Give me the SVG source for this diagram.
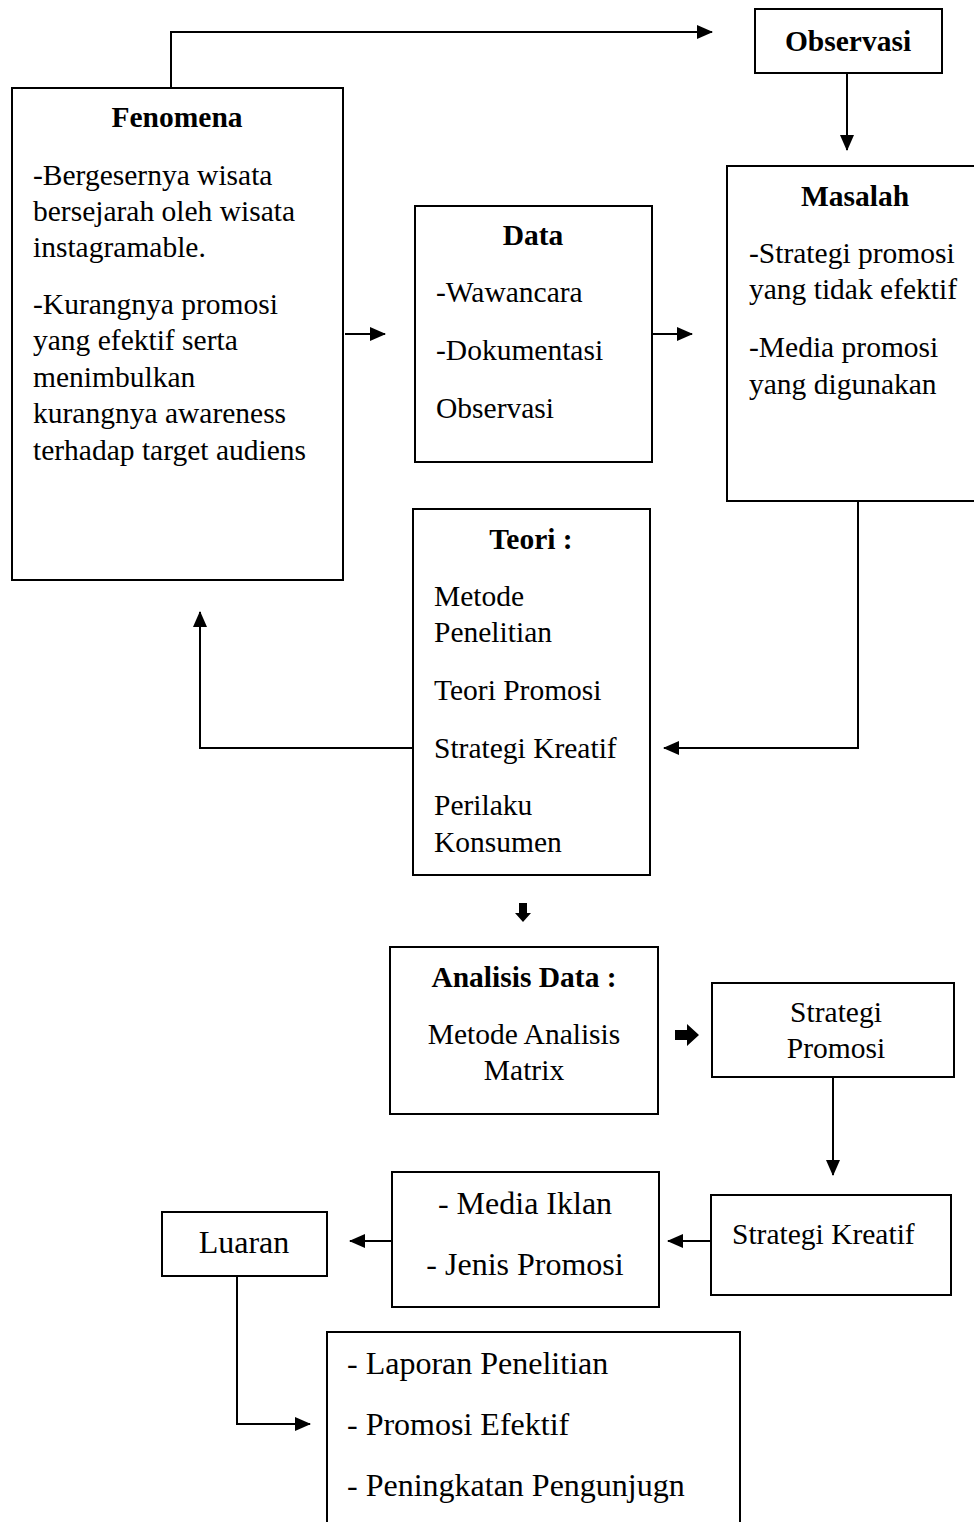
<svg xmlns="http://www.w3.org/2000/svg" width="974" height="1522" viewBox="0 0 974 1522">
<style>
.box{fill:#fff;stroke:#000;stroke-width:2}
.t{font-family:"Liberation Serif","Times New Roman",serif;font-size:29.5px;fill:#000}
.L{font-size:32px}
.b{font-weight:bold}
.c{text-anchor:middle}
.ln{fill:none;stroke:#000;stroke-width:2}
</style>
<defs>
<marker id="ah" markerWidth="16" markerHeight="14" refX="15" refY="7" orient="auto" markerUnits="userSpaceOnUse">
<path d="M0,0 L16,7 L0,14 Z" fill="#000"/>
</marker>
</defs>
<rect width="974" height="1522" fill="#fff"/>

<g id="connectors">
<path class="ln" d="M171,88 V32 H712" marker-end="url(#ah)"/>
<path class="ln" d="M847,73 V150" marker-end="url(#ah)"/>
<path class="ln" d="M345,334 H385" marker-end="url(#ah)"/>
<path class="ln" d="M652,334 H692" marker-end="url(#ah)"/>
<path class="ln" d="M858,501 V748 H664" marker-end="url(#ah)"/>
<path class="ln" d="M413,748 H200 V612" marker-end="url(#ah)"/>
<path d="M519,903 H527 V913 H531 L523,922 L515,913 H519 Z" fill="#000"/>
<path d="M675,1030 H687 V1024 L699,1035 L687,1046 V1040 H675 Z" fill="#000"/>
<path class="ln" d="M833,1077 V1175" marker-end="url(#ah)"/>
<path class="ln" d="M711,1241 H668" marker-end="url(#ah)"/>
<path class="ln" d="M392,1241 H350" marker-end="url(#ah)"/>
<path class="ln" d="M237,1276 V1424 H310" marker-end="url(#ah)"/>
</g>

<g id="observasi">
<rect class="box" x="755" y="9" width="187" height="64"/>
<text class="t b c" x="848" y="51" font-size="34">Observasi</text>
</g>

<g id="fenomena">
<rect class="box" x="12" y="88" width="331" height="492"/>
<text class="t b c" x="177" y="127">Fenomena</text>
<text class="t" x="33" y="185">-Bergesernya wisata</text>
<text class="t" x="33" y="221">bersejarah oleh wisata</text>
<text class="t" x="33" y="257">instagramable.</text>
<text class="t" x="33" y="314">-Kurangnya promosi</text>
<text class="t" x="33" y="350">yang efektif serta</text>
<text class="t" x="33" y="387">menimbulkan</text>
<text class="t" x="33" y="423">kurangnya awareness</text>
<text class="t" x="33" y="460">terhadap target audiens</text>
</g>

<g id="data">
<rect class="box" x="415" y="206" width="237" height="256"/>
<text class="t b c" x="533" y="245">Data</text>
<text class="t" x="436" y="302">-Wawancara</text>
<text class="t" x="436" y="360">-Dokumentasi</text>
<text class="t" x="436" y="418">Observasi</text>
</g>

<g id="masalah">
<rect class="box" x="727" y="166" width="260" height="335"/>
<text class="t b c" x="855" y="206">Masalah</text>
<text class="t" x="749" y="263">-Strategi promosi</text>
<text class="t" x="749" y="299">yang tidak efektif</text>
<text class="t" x="749" y="357">-Media promosi</text>
<text class="t" x="749" y="394">yang digunakan</text>
</g>

<g id="teori">
<rect class="box" x="413" y="509" width="237" height="366"/>
<text class="t b c" x="531" y="549">Teori :</text>
<text class="t" x="434" y="606">Metode</text>
<text class="t" x="434" y="642">Penelitian</text>
<text class="t" x="434" y="700">Teori Promosi</text>
<text class="t" x="434" y="758">Strategi Kreatif</text>
<text class="t" x="434" y="815">Perilaku</text>
<text class="t" x="434" y="852">Konsumen</text>
</g>

<g id="analisis">
<rect class="box" x="390" y="947" width="268" height="167"/>
<text class="t b c" x="524" y="987">Analisis Data :</text>
<text class="t c" x="524" y="1044">Metode Analisis</text>
<text class="t c" x="524" y="1080">Matrix</text>
</g>

<g id="strategi-promosi">
<rect class="box" x="712" y="983" width="242" height="94"/>
<text class="t c" x="836" y="1022">Strategi</text>
<text class="t c" x="836" y="1058">Promosi</text>
</g>

<g id="strategi-kreatif">
<rect class="box" x="711" y="1195" width="240" height="100"/>
<text class="t" x="732" y="1244">Strategi Kreatif</text>
</g>

<g id="media">
<rect class="box" x="392" y="1172" width="267" height="135"/>
<text class="t L c" x="525" y="1214">- Media Iklan</text>
<text class="t L c" x="525" y="1275">- Jenis Promosi</text>
</g>

<g id="luaran">
<rect class="box" x="162" y="1212" width="165" height="64"/>
<text class="t L c" x="244" y="1253">Luaran</text>
</g>

<g id="hasil">
<rect class="box" x="327" y="1332" width="413" height="210"/>
<text class="t L" x="347" y="1374">- Laporan Penelitian</text>
<text class="t L" x="347" y="1435">- Promosi Efektif</text>
<text class="t L" x="347" y="1496">- Peningkatan Pengunjugn</text>
</g>
</svg>
